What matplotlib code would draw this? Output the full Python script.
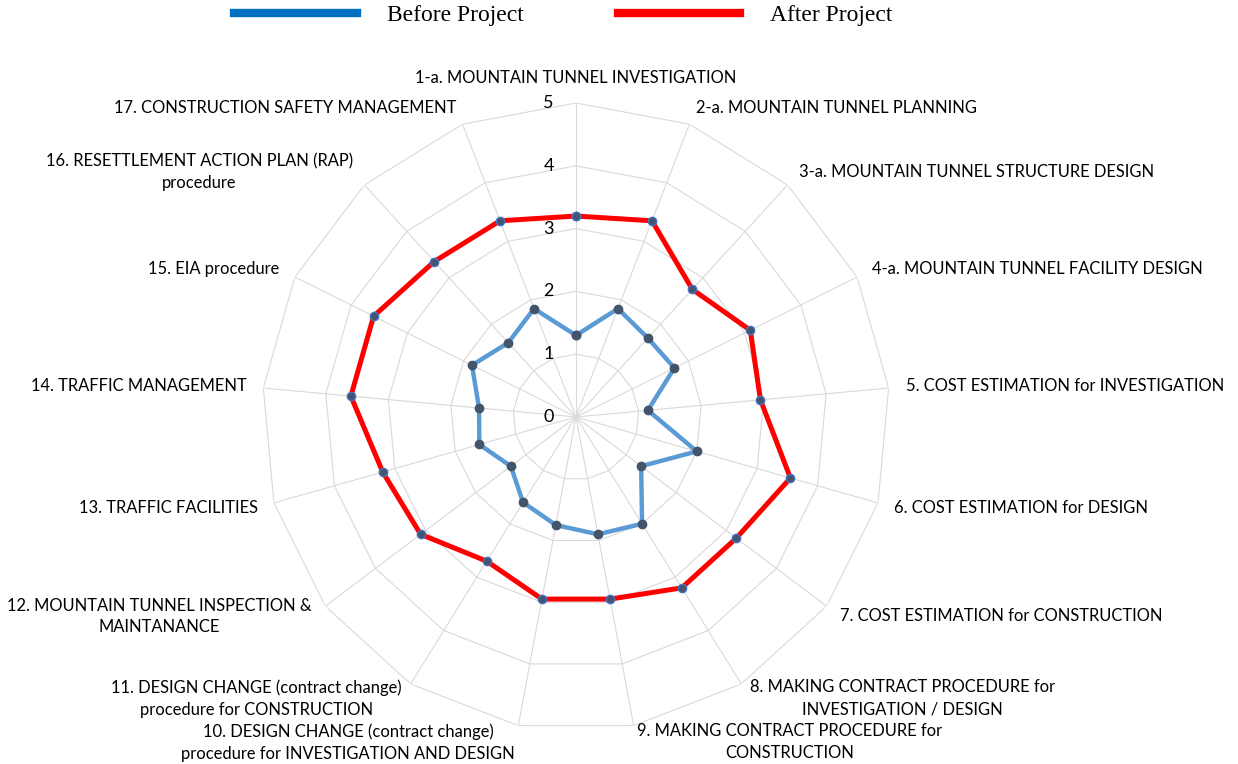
import numpy as np
import matplotlib
matplotlib.use('Agg')
import matplotlib.pyplot as plt
from matplotlib.lines import Line2D

categories = [
    '1-a. MOUNTAIN TUNNEL INVESTIGATION',
    '2-a. MOUNTAIN TUNNEL PLANNING',
    '3-a. MOUNTAIN TUNNEL STRUCTURE DESIGN',
    '4-a. MOUNTAIN TUNNEL FACILITY DESIGN',
    '5. COST ESTIMATION for INVESTIGATION',
    '6. COST ESTIMATION for DESIGN',
    '7. COST ESTIMATION for CONSTRUCTION',
    '8. MAKING CONTRACT PROCEDURE for\nINVESTIGATION / DESIGN',
    '9. MAKING CONTRACT PROCEDURE for\nCONSTRUCTION',
    '10. DESIGN CHANGE (contract change)\nprocedure for INVESTIGATION AND DESIGN',
    '11. DESIGN CHANGE (contract change)\nprocedure for CONSTRUCTION',
    '12. MOUNTAIN TUNNEL INSPECTION &\nMAINTANANCE',
    '13. TRAFFIC FACILITIES',
    '14. TRAFFIC MANAGEMENT',
    '15. EIA procedure',
    '16. RESETTLEMENT ACTION PLAN (RAP)\nprocedure',
    '17. CONSTRUCTION SAFETY MANAGEMENT',
]
before = [1.3, 1.85, 1.7, 1.75, 1.15, 2.0, 1.3, 2.0, 1.9, 1.75, 1.6, 1.3, 1.6, 1.55, 1.85, 1.6, 1.85]
after = [3.2, 3.35, 2.75, 3.1, 2.95, 3.55, 3.2, 3.2, 2.95, 2.95, 2.7, 3.1, 3.2, 3.6, 3.6, 3.35, 3.35]
rings = [0, 1, 2, 3, 4, 5]
legend_labels = ['Before Project', 'After Project']

n = len(categories)
theta = np.arange(n) * 2 * np.pi / n
closed = np.append(theta, theta[0])

fig = plt.figure(figsize=(12.38, 7.64), dpi=100)
ax = fig.add_axes([0.2116, 0.0432, 0.5073, 0.822], projection='polar')
ax.set_theta_offset(np.pi / 2)
ax.set_theta_direction(-1)
ax.set_ylim(0, 5)
ax.set_axis_off()

grid_c = '#d9d9d9'
for r in rings[1:]:
    ax.plot(closed, [r] * (n + 1), color=grid_c, lw=0.8, zorder=1)
for t in theta:
    ax.plot([t, t], [0, 5], color=grid_c, lw=0.8, zorder=1)

for r in rings:
    ax.annotate(str(r), xy=(0, r), xytext=(-22, 0), textcoords='offset pixels',
                ha='right', va='center', fontsize=13, family='Lato', color='#000000')

ax.plot(closed, np.append(before, before[0]), color='#5b9bd5', lw=3.2,
        marker='o', ms=6, mfc='#44546a', mec='#44546a', zorder=3)
ax.plot(closed, np.append(after, after[0]), color='#ff0000', lw=3.6,
        marker='o', ms=6, mfc='#44546a', mec='#4472c4', mew=1, zorder=4)

for t, lab in zip(theta, categories):
    s = np.sin(t)
    if abs(s) < 1e-6:
        ha, va = 'center', 'bottom'
    elif s > 0:
        ha, va = 'left', 'center'
    else:
        ha, va = 'right', 'center'
    ax.text(t, 5.27, lab, ha=ha, va=va, multialignment='center',
            fontsize=11.9, family='Lato', color='#000000', linespacing=1.45)

handles = [Line2D([], [], color='#0070c0', lw=6), Line2D([], [], color='#ff0000', lw=6)]
fig.legend(handles, legend_labels, loc='upper center', bbox_to_anchor=(0.455, 1.022),
           ncol=2, frameon=False, prop={'family': 'Liberation Serif', 'size': 17},
           handlelength=5.2, columnspacing=4.0, handletextpad=1.25)

fig.savefig('out.png', dpi=100)
